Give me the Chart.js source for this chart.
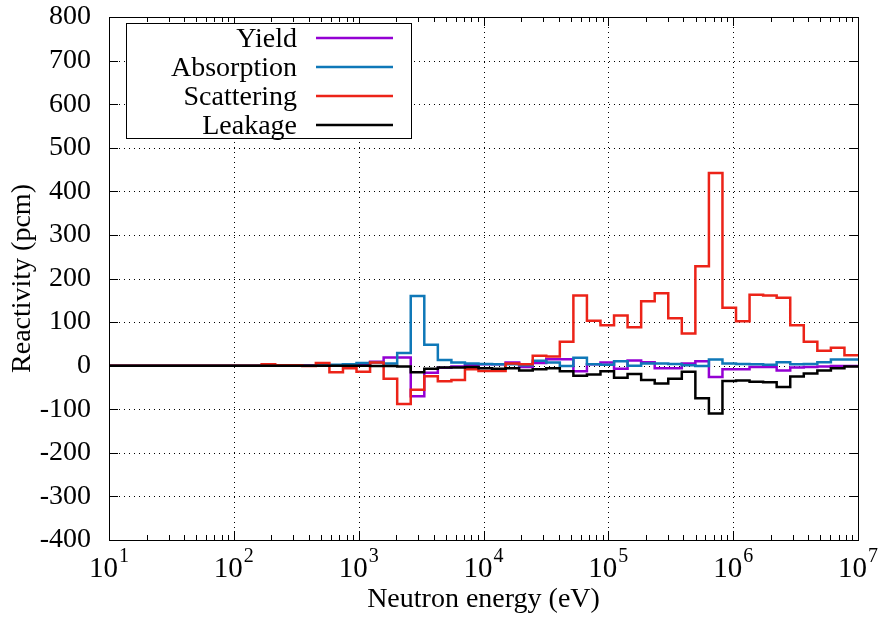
<!DOCTYPE html>
<html>
<head>
<meta charset="utf-8">
<script src="https://cdn.jsdelivr.net/npm/chart.js@4"></script>
<style>
  html, body { margin: 0; padding: 0; background: #fff; }
  #wrap { width: 880px; height: 622px; }
</style>
</head>
<body>
<div id="wrap"><canvas id="myChart" width="880" height="622"></canvas></div>
<script>
// group edges (eV), lethargy width 0.25, ascending
const binEdges = [8.3, 10.7, 13.7, 17.6, 22.6, 29.0, 37.3, 47.9, 61.4, 78.9, 101.3, 130.1, 167.0, 214.5,
  275.4, 353.6, 454.0, 582.9, 748.5, 961.1, 1234, 1585, 2035, 2613, 3355, 4307, 5531, 7102, 9119,
  11710, 15030, 19310, 24790, 31830, 40870, 52480, 67380, 86520, 111100, 142600, 183200, 235200,
  302000, 387700, 497900, 639300, 820800, 1054000, 1353000, 1738000, 2231000, 2865000, 3679000,
  4724000, 6065000, 7788000, 10000000];

// reactivity per group (pcm), one value per bin
const yieldPcm = [0, 0, 0, 0, 0, 0, 0, 0, 0, 0, 0, 0, 0, 0, 1, 1, 1, 1, 2, 3, 9, 19, 19, -70, -16, -5, -2, 1,
  3, 3, 7, -3, 6, 15, 15, -13, 3, 7, -7, 12, 8, -6, -6, 5, 10, -26, -8, -8, -3, -3, -11, -4, -3, -2, -1, -1];
const absorptionPcm = [0, 0, 0, 0, 0, 0, 0, 0, 0, 0, 0, 0, 0, 0, 0, 0, 1, 2, 3, 6, 7, 5, 29, 160, 48, 13, 7, 5,
  4, 3, 3, 1, 11, 7, -1, 18, 3, 2, 10, 0, 5, 5, 4, 1, -1, 14, 5, 4, 3, 2, 8, 3, 4, 8, 14, 14];
const scatteringPcm = [0, 0, 0, 0, 0, 0, 0, 0, 0, 0, 0, 0, 3, 1, 1, -1, 6, -15, -6, -14, 7, -30, -88, -55, -24, -36, -33, -8,
  -12, -12, 5, 3, 23, 21, 55, 161, 103, 93, 115, 88, 148, 166, 109, 74, 228, 442, 133, 102, 163, 161, 156, 93, 55, 34, 41, 24];
const leakagePcm = [0, 0, 0, 0, 0, 0, 0, 0, 0, 0, 0, 0, 0, 0, 0, 0, 0, 0, 0, 0, -1, -1, -2, -15, -7, -4, -4, -3,
  -6, -7, -6, -11, -8, -6, -13, -23, -20, -13, -28, -19, -33, -41, -30, -14, -75, -110, -35, -34, -37, -38, -49, -25, -18, -11, -6, -2];

const seriesNames = ['Yield', 'Absorption', 'Scattering', 'Leakage'];
const seriesColors = ['#9400d3', '#0f78b8', '#ec2318', '#000000'];
const decadeExponents = [1, 2, 3, 4, 5, 6, 7];

const FONT = '"Liberation Serif", "Times New Roman", serif';

// points for a step line: lower edge of each bin, then the top edge
function steps(vals) {
  const pts = vals.map((v, i) => ({ x: binEdges[i], y: v }));
  pts.push({ x: binEdges[binEdges.length - 1], y: vals[vals.length - 1] });
  return pts;
}

const allSeries = [yieldPcm, absorptionPcm, scatteringPcm, leakagePcm];
const datasets = allSeries.map((vals, i) => ({
  label: seriesNames[i],
  data: steps(vals),
  borderColor: seriesColors[i],
  backgroundColor: seriesColors[i],
  borderWidth: 2.5,
  pointRadius: 0,
  stepped: true,
  fill: false,
  order: allSeries.length - i   // later series drawn on top, like gnuplot
}));

// gnuplot-ish frame: dotted grid, inward ticks, opaque key box, 10^n labels
const gnuFrame = {
  id: 'gnuFrame',
  beforeDatasetsDraw(chart) {
    const { ctx, chartArea: a, scales: { x, y } } = chart;
    ctx.save();
    ctx.strokeStyle = '#000';
    ctx.lineWidth = 1;
    ctx.setLineDash([1, 4]);
    ctx.beginPath();
    y.ticks.forEach(t => {
      if (t.value <= y.min || t.value >= y.max) return;
      const py = Math.round(y.getPixelForValue(t.value)) + 0.5;
      ctx.moveTo(a.left, py); ctx.lineTo(a.right, py);
    });
    decadeExponents.forEach(e => {
      const v = Math.pow(10, e);
      if (v <= x.min || v >= x.max) return;
      const px = Math.round(x.getPixelForValue(v)) + 0.5;
      ctx.moveTo(px, a.top); ctx.lineTo(px, a.bottom);
    });
    ctx.stroke();
    ctx.restore();
  },
  afterDatasetsDraw(chart) {
    const { ctx, chartArea: a, scales: { x, y } } = chart;
    ctx.save();
    ctx.strokeStyle = '#000';
    ctx.lineWidth = 1;
    ctx.setLineDash([]);
    ctx.beginPath();
    // y ticks, left and right
    y.ticks.forEach(t => {
      const py = Math.round(y.getPixelForValue(t.value)) + 0.5;
      ctx.moveTo(a.left, py); ctx.lineTo(a.left + 9, py);
      ctx.moveTo(a.right, py); ctx.lineTo(a.right - 9, py);
    });
    // x ticks: decades long, 2..9 short
    decadeExponents.slice(0, -1).forEach(e => {
      for (let m = 1; m <= 10; m++) {
        const v = m * Math.pow(10, e);
        if (v < x.min || v > x.max) continue;
        const px = Math.round(x.getPixelForValue(v)) + 0.5;
        const len = (m === 1 || m === 10) ? 9 : 5;
        ctx.moveTo(px, a.bottom); ctx.lineTo(px, a.bottom - len);
        ctx.moveTo(px, a.top); ctx.lineTo(px, a.top + len);
      }
    });
    ctx.stroke();
    ctx.strokeRect(Math.round(a.left) + 0.5, Math.round(a.top) + 0.5,
      Math.round(a.right - a.left), Math.round(a.bottom - a.top));

    // 10^n labels
    ctx.fillStyle = '#000';
    ctx.textBaseline = 'alphabetic';
    decadeExponents.forEach(e => {
      const px = x.getPixelForValue(Math.pow(10, e));
      ctx.font = '29px ' + FONT;
      const wBase = ctx.measureText('10').width;
      ctx.font = '20px ' + FONT;
      const wExp = ctx.measureText(String(e)).width;
      const start = px - (wBase + wExp + 1) / 2;
      ctx.font = '29px ' + FONT;
      ctx.textAlign = 'left';
      ctx.fillText('10', start, 577);
      ctx.font = '20px ' + FONT;
      ctx.fillText(String(e), start + wBase + 1, 562);
    });

    // key
    const box = { l: 126, t: 23, r: 411, b: 138 };
    ctx.fillStyle = '#fff';
    ctx.fillRect(box.l, box.t, box.r - box.l, box.b - box.t);
    ctx.strokeRect(box.l + 0.5, box.t + 0.5, box.r - box.l, box.b - box.t);
    ctx.font = '28px ' + FONT;
    ctx.textAlign = 'right';
    chart.data.datasets.forEach((ds, i) => {
      const ry = 38 + i * 29;
      ctx.fillStyle = '#000';
      ctx.fillText(ds.label, 297, ry + 9);
      ctx.strokeStyle = ds.borderColor;
      ctx.lineWidth = 2.5;
      ctx.beginPath();
      ctx.moveTo(316, ry); ctx.lineTo(393, ry);
      ctx.stroke();
    });
    ctx.restore();
  }
};

new Chart(document.getElementById('myChart').getContext('2d'), {
  type: 'line',
  data: { datasets },
  options: {
    responsive: false,
    devicePixelRatio: 1,
    animation: false,
    layout: { padding: { top: 0, right: 22, left: 0, bottom: 0 } },
    plugins: { legend: { display: false }, tooltip: { enabled: false } },
    scales: {
      x: {
        type: 'logarithmic',
        min: 10,
        max: 1e7,
        grid: { display: false, drawTicks: false },
        border: { display: false },
        ticks: { display: false },
        title: {
          display: true,
          text: 'Neutron energy (eV)',
          color: '#000',
          font: { family: FONT, size: 28 },
          padding: { top: 0, bottom: 6 }
        },
        afterFit(scale) { scale.height = 82; }
      },
      y: {
        min: -400,
        max: 800,
        grid: { display: false, drawTicks: false },
        border: { display: false },
        ticks: {
          stepSize: 100,
          color: '#000',
          padding: 18,
          font: { family: FONT, size: 28 }
        },
        title: {
          display: true,
          text: 'Reactivity (pcm)',
          color: '#000',
          font: { family: FONT, size: 28 },
          padding: { top: 6, bottom: 0 }
        },
        afterFit(scale) {
          scale.width = 109;
          scale.paddingTop = 17;
          scale.paddingBottom = 0;
        }
      }
    }
  },
  plugins: [gnuFrame]
});
</script>
</body>
</html>
